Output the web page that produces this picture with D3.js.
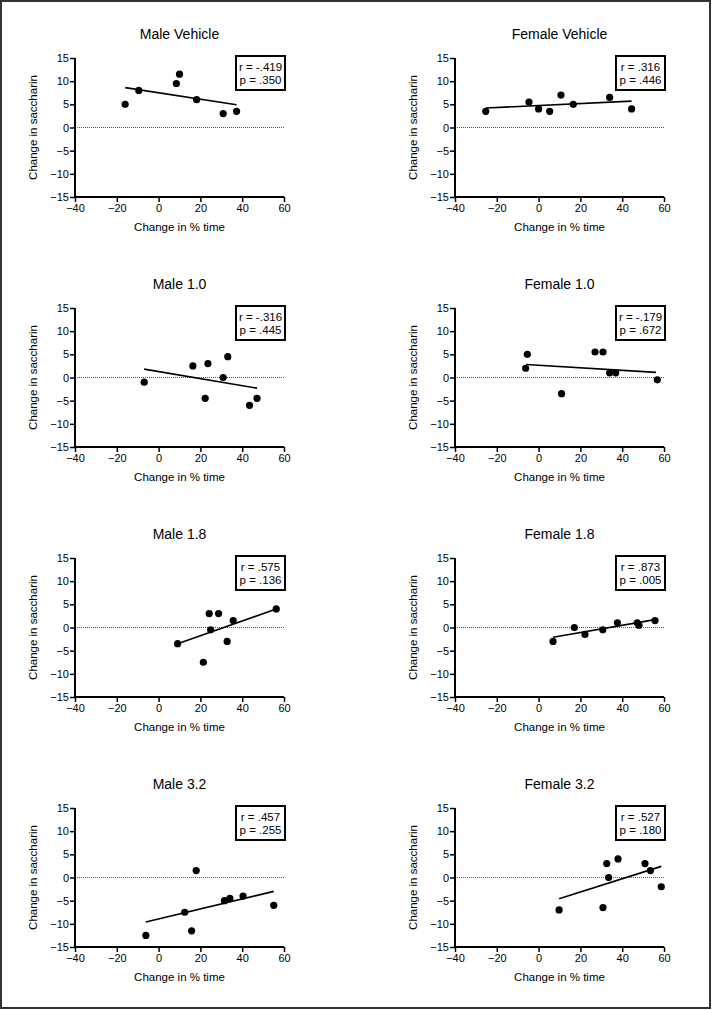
<!DOCTYPE html>
<html>
<head>
<meta charset="utf-8">
<script src="https://cdn.jsdelivr.net/npm/d3@7"></script>
<style>
  html, body { margin: 0; padding: 0; background: #fff; }
  svg { display: block; font-family: "Liberation Sans", Arial, sans-serif; }
</style>
</head>
<body>
<svg id="chart" width="712" height="1010"></svg>
<script>
const titles = ["Male Vehicle", "Female Vehicle", "Male 1.0", "Female 1.0", "Male 1.8", "Female 1.8", "Male 3.2", "Female 3.2"];
const rLabels = ["r = -.419", "r = .316", "r = -.316", "r = -.179", "r = .575", "r = .873", "r = .457", "r = .527"];
const pLabels = ["p = .350", "p = .446", "p = .445", "p = .672", "p = .136", "p = .005", "p = .255", "p = .180"];

const xValues = [
  [-16, -9.5, 8.5, 10, 18.2, 30.9, 37.3],
  [-25.3, -4.6, 0, 5.3, 10.7, 16.6, 34, 44.5],
  [-6.9, 16.4, 23.6, 22.3, 30.9, 33.1, 43.5, 47.1],
  [-6.2, -5.4, 11, 27, 30.8, 34, 36.9, 56.8],
  [9.1, 21.4, 24.2, 24.9, 28.7, 32.8, 35.7, 56.3],
  [6.9, 17.1, 22.2, 30.7, 37.7, 47.2, 48, 55.7],
  [-6.1, 12.5, 15.8, 18, 31.5, 34.1, 40.4, 55.1],
  [9.8, 30.8, 32.6, 33.5, 38, 50.9, 53.5, 58.7]
];
const yValues = [
  [5, 8, 9.5, 11.5, 6, 3, 3.5],
  [3.5, 5.5, 4, 3.5, 7, 5, 6.5, 4],
  [-1, 2.5, 3, -4.5, 0, 4.5, -6, -4.5],
  [2, 5, -3.5, 5.5, 5.5, 1, 1, -0.5],
  [-3.5, -7.5, 3, -0.5, 3, -3, 1.5, 4],
  [-3, 0, -1.5, -0.5, 1, 1, 0.5, 1.5],
  [-12.5, -7.5, -11.5, 1.5, -5, -4.5, -4, -6],
  [-7, -6.5, 3, 0, 4, 3, 1.5, -2]
];
// fitted line end points: [x1, y1, x2, y2]
const fitLines = [
  [-16, 8.6, 37.3, 4.9],
  [-25.3, 4.2, 44.5, 5.7],
  [-6.9, 1.8, 47.1, -2.3],
  [-6.0, 2.8, 56.2, 1.1],
  [9.1, -3.5, 56.3, 4],
  [6.9, -2.1, 55.7, 1.7],
  [-6.1, -9.6, 55.1, -3.0],
  [9.8, -4.6, 58.7, 2.4]
];
const xTicks = [-40, -20, 0, 20, 40, 60];
const yTicks = [-15, -10, -5, 0, 5, 10, 15];
const xDomain = [-40, 60];
const yDomain = [-15, 15];
const xTitle = "Change in % time";
const yTitle = "Change in saccharin";

const svg = d3.select("#chart");

// outer frame
svg.append("rect").attr("x", 1).attr("y", 1).attr("width", 709).attr("height", 1007)
  .attr("fill", "none").attr("stroke", "#333").attr("stroke-width", 2);

const colLeft = [75, 455];
const plotW = 209;
const rowTop = 58;
const rowStep = 250;
const plotH = 139;

titles.forEach((title, i) => {
  const col = i % 2, row = Math.floor(i / 2);
  const left = colLeft[col];
  const top = rowTop + row * rowStep;
  const g = svg.append("g").attr("transform", `translate(${left},${top})`);
  const x = d3.scaleLinear().domain(xDomain).range([0, plotW]);
  const y = d3.scaleLinear().domain(yDomain).range([plotH, 0]);

  // title
  g.append("text").attr("x", plotW / 2).attr("y", -19).attr("text-anchor", "middle")
    .attr("font-size", 14).attr("fill", "#000").text(title);

  // zero dotted line
  g.append("line").attr("x1", x(xDomain[0])).attr("x2", x(xDomain[1]))
    .attr("y1", y(0)).attr("y2", y(0))
    .attr("stroke", "#555").attr("stroke-width", 1).attr("stroke-dasharray", "1,1");

  // axes
  const xa = g.append("g").attr("transform", `translate(0,${plotH})`)
    .call(d3.axisBottom(x).tickValues(xTicks).tickSize(5).tickPadding(2).tickFormat(d3.format("d")));
  const ya = g.append("g")
    .call(d3.axisLeft(y).tickValues(yTicks).tickSize(5).tickPadding(1).tickFormat(d3.format("d")));
  [xa, ya].forEach(a => {
    a.select(".domain").attr("stroke", "#000").attr("stroke-width", 2);
    a.selectAll(".tick line").attr("stroke", "#000").attr("stroke-width", 1.5);
    a.selectAll(".tick text").attr("font-size", 11).attr("fill", "#000")
      .attr("font-family", "Liberation Sans, Arial, sans-serif");
  });
  xa.select(".domain").attr("d", `M0,0H${plotW}`);
  ya.select(".domain").attr("d", `M0,0V${plotH}`);

  // axis titles
  g.append("text").attr("x", plotW / 2).attr("y", plotH + 34).attr("text-anchor", "middle")
    .attr("font-size", 11.5).attr("fill", "#000").text(xTitle);
  g.append("text").attr("transform", `translate(-38,${plotH / 2}) rotate(-90)`)
    .attr("text-anchor", "middle").attr("font-size", 11.5).attr("fill", "#000").text(yTitle);

  // fit line
  const f = fitLines[i];
  g.append("line").attr("x1", x(f[0])).attr("y1", y(f[1])).attr("x2", x(f[2])).attr("y2", y(f[3]))
    .attr("stroke", "#000").attr("stroke-width", 1.6);

  // points
  g.selectAll("circle.pt").data(xValues[i].map((v, k) => [v, yValues[i][k]])).enter()
    .append("circle").attr("class", "pt")
    .attr("cx", d => x(d[0])).attr("cy", d => y(d[1])).attr("r", 3.6).attr("fill", "#000");

  // annotation box
  const bx = plotW - 48, by = -2, bw = 49, bh = 34;
  g.append("rect").attr("x", bx).attr("y", by).attr("width", bw).attr("height", bh)
    .attr("fill", "#fff").attr("stroke", "#000").attr("stroke-width", 2);
  g.append("text").attr("x", bx + bw / 2).attr("y", by + 14.5).attr("text-anchor", "middle")
    .attr("font-size", 11.5).attr("fill", "#000").text(rLabels[i]);
  g.append("text").attr("x", bx + bw / 2).attr("y", by + 27.5).attr("text-anchor", "middle")
    .attr("font-size", 11.5).attr("fill", "#000").text(pLabels[i]);
});
</script>
</body>
</html>
